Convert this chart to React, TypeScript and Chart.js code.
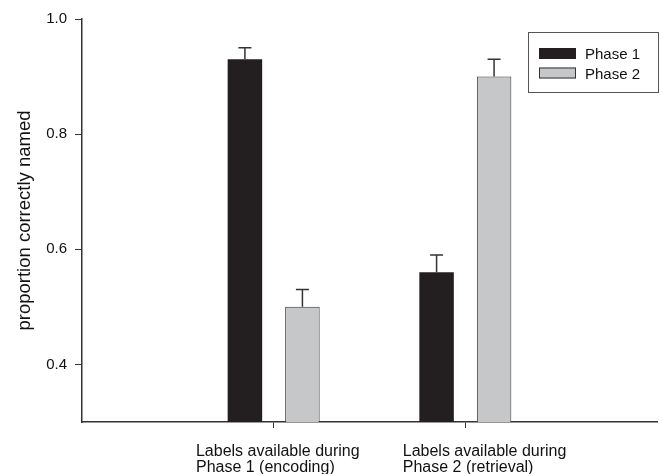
import React, { useEffect, useRef } from "react";
import { Chart, registerables } from "chart.js";

Chart.register(...registerables);

// ---- data ----
const categories: string[][] = [
  ["Labels available during", "Phase 1 (encoding)"],
  ["Labels available during", "Phase 2 (retrieval)"],
];
const seriesNames = ["Phase 1", "Phase 2"];
const phase1Values = [0.93, 0.56];
const phase2Values = [0.5, 0.9];
const phase1Errors = [0.02, 0.03];
const phase2Errors = [0.03, 0.03];
const yTicks = [0.4, 0.6, 0.8, 1.0];
const yTitle = "proportion correctly named";

const FONT = "'Liberation Sans', Arial, Helvetica, sans-serif";
const BLACK = "#231f20";
const GREY = "#c6c7c9";
const AXIS = "#333333";

const errorBarPlugin = {
  id: "errorBars",
  afterDatasetsDraw(chart: any) {
    const ctx = chart.ctx;
    const y = chart.scales.y;
    chart.data.datasets.forEach((ds: any, di: number) => {
      const meta = chart.getDatasetMeta(di);
      meta.data.forEach((el: any, i: number) => {
        const v = ds.data[i];
        const e = ds.errors ? ds.errors[i] : null;
        if (v == null || e == null) return;
        const top = y.getPixelForValue(v + e);
        ctx.save();
        ctx.strokeStyle = AXIS;
        ctx.lineWidth = 1.5;
        ctx.beginPath();
        ctx.moveTo(el.x, el.y);
        ctx.lineTo(el.x, top);
        ctx.moveTo(el.x - 6.5, top);
        ctx.lineTo(el.x + 6.5, top);
        ctx.stroke();
        ctx.restore();
      });
    });
  },
};

const xLabelPlugin = {
  id: "xLabels",
  afterDraw(chart: any, _args: any, opts: any) {
    const ctx = chart.ctx;
    const x = chart.scales.x;
    const bottom = chart.chartArea.bottom;
    ctx.save();
    ctx.fillStyle = "#111";
    ctx.font = `16px ${FONT}`;
    ctx.textAlign = "left";
    ctx.textBaseline = "alphabetic";
    (chart.data.labels as any[]).forEach((lab: any, i: number) => {
      if (!Array.isArray(lab)) return;
      const px = x.getPixelForValue(i);
      const off = opts.offsets[i - 1] ?? 0;
      lab.forEach((line: string, li: number) => {
        ctx.fillText(line, px + off, bottom + 34 + li * 16);
      });
    });
    ctx.restore();
  },
};

const legendPlugin = {
  id: "boxLegend",
  afterDraw(chart: any) {
    const ctx = chart.ctx;
    ctx.save();
    ctx.strokeStyle = "#555";
    ctx.lineWidth = 1;
    ctx.strokeRect(528.5, 32.5, 130, 60);
    ctx.font = `15px ${FONT}`;
    ctx.textBaseline = "alphabetic";
    ctx.textAlign = "left";
    chart.data.datasets.forEach((ds: any, i: number) => {
      const top = 48 + i * 19.5;
      ctx.fillStyle = ds.backgroundColor;
      ctx.fillRect(539, top, 37, 11);
      if (ds.borderWidth) {
        ctx.strokeStyle = ds.borderColor;
        ctx.lineWidth = 1;
        ctx.strokeRect(539.5, top + 0.5, 36, 10);
      }
      ctx.fillStyle = "#111";
      ctx.fillText(ds.label, 585, top + 11);
    });
    ctx.restore();
  },
};

export default function App() {
  const ref = useRef<HTMLCanvasElement>(null);
  useEffect(() => {
    document.body.style.margin = "0";
    if (!ref.current) return;
    const labels: any[] = ["", ...categories, ""];
    const chart = new Chart(ref.current, {
      type: "bar",
      data: {
        labels,
        datasets: [
          {
            label: seriesNames[0],
            data: [null, ...phase1Values, null],
            errors: [null, ...phase1Errors, null],
            backgroundColor: BLACK,
            borderColor: BLACK,
            borderWidth: 0,
            base: 0.3,
          } as any,
          {
            label: seriesNames[1],
            data: [null, ...phase2Values, null],
            errors: [null, ...phase2Errors, null],
            backgroundColor: GREY,
            borderColor: AXIS,
            borderWidth: 1,
            base: 0.3,
          } as any,
        ],
      },
      options: {
        animation: false,
        responsive: false,
        layout: { padding: { left: 0, right: 6, top: 19, bottom: 0 } },
        datasets: { bar: { categoryPercentage: 0.6, barPercentage: 0.6 } },
        plugins: {
          legend: { display: false },
          tooltip: { enabled: false },
          xLabels: { offsets: [-77.7, -62.6] },
        } as any,
        scales: {
          x: {
            type: "category",
            offset: false,
            afterFit: (s: any) => {
              s.height = 52;
            },
            border: { display: true, color: AXIS, width: 1.5 },
            grid: {
              offset: false,
              drawOnChartArea: false,
              drawTicks: true,
              tickLength: 6,
              lineWidth: 1,
              color: (c: any) =>
                c.index === 0 || c.index === labels.length - 1 ? "rgba(0,0,0,0)" : AXIS,
            },
            ticks: { display: false },
          },
          y: {
            min: 0.3,
            max: 1.0,
            afterFit: (s: any) => {
              s.width = 82;
            },
            afterBuildTicks: (s: any) => {
              s.ticks = yTicks.map((v) => ({ value: v }));
            },
            border: { display: true, color: AXIS, width: 1.5 },
            grid: { drawOnChartArea: false, drawTicks: true, tickLength: 7, color: AXIS, lineWidth: 1 },
            ticks: {
              padding: 8,
              color: "#111",
              font: { family: FONT, size: 15 },
              callback: (v: any) => Number(v).toFixed(1),
            },
            title: {
              display: true,
              text: yTitle,
              color: "#111",
              font: { family: FONT, size: 18.5, lineHeight: 1.2 },
              padding: { top: 14, bottom: 0 },
            },
          },
        },
      },
      plugins: [errorBarPlugin, xLabelPlugin, legendPlugin],
    });
    return () => chart.destroy();
  }, []);
  return (
    <div style={{ width: 663, height: 474, position: "relative" }}>
      <canvas ref={ref} width={663} height={474} style={{ display: "block" }} />
    </div>
  );
}
